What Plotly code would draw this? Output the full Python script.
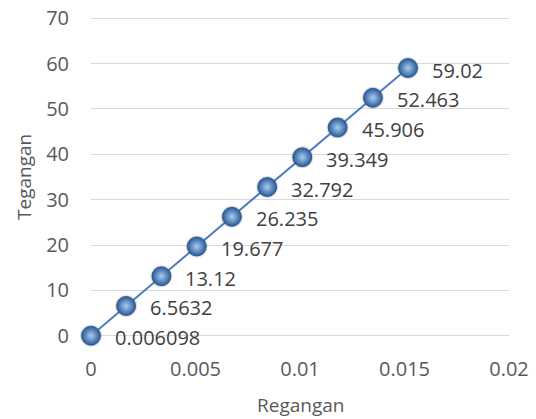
import plotly.graph_objects as go

# Strain (regangan) and stress (tegangan) readings
regangan = [0.0, 0.00168, 0.00337, 0.00506, 0.00674, 0.00843, 0.01011, 0.0118, 0.01349, 0.01517]
tegangan = [0.006098, 6.5632, 13.12, 19.677, 26.235, 32.792, 39.349, 45.906, 52.463, 59.02]

x_ticks = [0, 0.005, 0.01, 0.015, 0.02]
x_tick_text = ["0", "0.005", "0.01", "0.015", "0.02"]
y_ticks = [0, 10, 20, 30, 40, 50, 60, 70]

FONT = "Open Sans"
TICK_COLOR = "#595959"
LABEL_COLOR = "#404040"

fig = go.Figure()

# soft drop shadow under each sphere
fig.add_trace(go.Scatter(
    x=regangan, y=tegangan, mode="markers", cliponaxis=False,
    marker=dict(size=22, color="rgba(60,60,60,0.16)", line=dict(width=0)),
    hoverinfo="skip", showlegend=False,
))

fig.add_trace(go.Scatter(
    x=regangan, y=tegangan, mode="lines+markers", cliponaxis=False,
    line=dict(color="#4a7ebb", width=2),
    marker=dict(
        size=19,
        color="#2a5a98",
        gradient=dict(type="radial", color="#a9ccf2"),
        line=dict(width=0.8, color="#24508a"),
    ),
    showlegend=False,
))

for xv, yv in zip(regangan, tegangan):
    fig.add_annotation(
        x=xv, y=yv, text=str(yv), showarrow=False,
        xanchor="left", yanchor="middle", xshift=22, yshift=-2,
        font=dict(family=FONT, size=20, color=LABEL_COLOR),
    )

# axis titles
fig.add_annotation(
    x=0.5, y=0, xref="paper", yref="paper", text="Regangan", showarrow=False,
    xanchor="center", yanchor="middle", yshift=-67,
    font=dict(family=FONT, size=19, color=TICK_COLOR),
)
fig.add_annotation(
    x=0, y=0.5, xref="paper", yref="paper", text="Tegangan", showarrow=False,
    textangle=-90, xanchor="center", yanchor="middle", xshift=-67,
    font=dict(family=FONT, size=19, color=TICK_COLOR),
)

fig.update_layout(
    width=536, height=419,
    margin=dict(l=91, r=27, t=16, b=81),
    paper_bgcolor="white", plot_bgcolor="white",
    font=dict(family=FONT, color=TICK_COLOR, size=20),
    xaxis=dict(
        range=[0, 0.02], tickvals=x_ticks, ticktext=x_tick_text,
        showgrid=False, zeroline=False, showline=False, automargin=False,
        ticks="", ticklabelstandoff=17,
        tickfont=dict(size=20, color=TICK_COLOR),
    ),
    yaxis=dict(
        # padding so the 0 and 70 grid lines are not dropped at the plot edges
        range=[-0.5, 70.5], tickvals=y_ticks, automargin=False,
        showgrid=True, gridcolor="#d9d9d9", gridwidth=1.3,
        zeroline=False, showline=False, ticks="", ticklabelstandoff=21,
        tickfont=dict(size=20, color=TICK_COLOR),
    ),
)

fig.write_html("out.html")
